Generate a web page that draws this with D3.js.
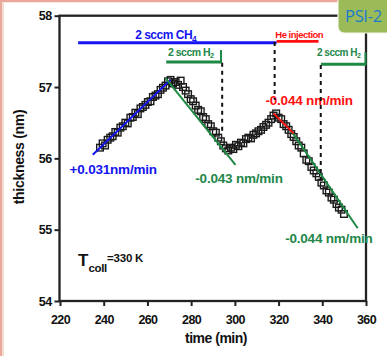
<!DOCTYPE html>
<html><head><meta charset="utf-8">
<script src="https://cdn.jsdelivr.net/npm/d3@7"></script>
<style>
html,body{margin:0;padding:0;background:#fff;}
svg{display:block;font-family:"Liberation Sans",Arial,sans-serif;}
</style></head>
<body>
<svg id="chart" width="387" height="356"></svg>
<script>
// ---- data ----
const xTicks = [220, 240, 260, 280, 300, 320, 340, 360];
const yTicks = [54, 55, 56, 57, 58];
const times = [
  238.3, 239.5, 240.6, 241.8, 243.0, 244.1, 245.3, 246.4, 247.6, 248.7, 249.9, 251.0, 252.2, 253.3, 254.5, 255.6,
  256.8, 257.9, 259.1, 260.2, 261.4, 262.5, 263.7, 264.8, 266.0, 267.1, 268.3, 269.4, 270.6, 271.7, 272.9, 274.0, 275.2,
  276.3, 277.5, 278.6, 279.8, 280.9, 282.1, 283.2, 284.4, 285.5, 286.7, 287.8, 289.0, 290.1, 291.3, 292.4, 293.6,
  294.7, 295.9, 297.0, 298.2,
  299.3, 300.5, 301.6, 302.8, 303.9, 305.1, 306.2, 307.4, 308.5, 309.7, 310.8, 312.0, 313.1, 314.3, 315.4, 316.6, 317.7,
  318.9, 320.0, 321.2, 322.3, 323.5, 324.6, 325.8, 326.9, 328.1, 329.2, 330.4, 331.5, 332.7, 333.8, 335.0, 336.1,
  337.3, 338.4, 339.6, 340.7, 341.9, 343.0, 344.2, 345.3, 346.5, 347.6, 348.8, 349.9
];
const thickness = [
  56.15, 56.21, 56.18, 56.26, 56.29, 56.31, 56.37, 56.36, 56.43, 56.45, 56.50, 56.49, 56.57, 56.58, 56.64, 56.62,
  56.70, 56.72, 56.75, 56.79, 56.80, 56.86, 56.88, 56.90, 56.96, 56.99, 57.02, 57.08, 57.10, 57.05, 57.07, 57.03, 57.09,
  57.00, 56.95, 56.90, 56.83, 56.80, 56.74, 56.68, 56.66, 56.58, 56.55, 56.48, 56.45, 56.38, 56.36, 56.29, 56.24,
  56.18, 56.14, 56.11, 56.15,
  56.13, 56.19, 56.17, 56.22, 56.21, 56.27, 56.29, 56.28, 56.33, 56.35, 56.38, 56.40, 56.44, 56.47, 56.50, 56.55, 56.60,
  56.63, 56.57, 56.55, 56.48, 56.45, 56.40, 56.34, 56.30, 56.24, 56.18, 56.15, 56.07, 55.98, 55.96, 55.88, 55.83,
  55.79, 55.74, 55.66, 55.62, 55.55, 55.52, 55.45, 55.42, 55.36, 55.31, 55.28, 55.22
];
// linear fits: [t0, v0, t1, v1]
const fitRise = [235.0, 56.05, 270.5, 57.10];
const fitFall1 = [268.2, 57.13, 300.3, 55.91];
const fitFall2a = [317.7, 56.63, 326.9, 56.35];
const fitFall2b = [325.5, 56.40, 356.2, 55.02];
const fitLabels = ["+0.031nm/min", "-0.043 nm/min", "-0.044 nm/min", "-0.044 nm/min"];
// gas phases: [tStart, tEnd]
const phaseCH4 = [228.3, 319.1];
const phaseHe = [319.1, 338.3];
const phaseH2a = [268.6, 293.9];
const phaseH2b = [339.4, 360.0];
// dashed markers: [t, vTop, vBottom]
const markers = [[294.2, 57.34, 56.33], [318.2, 57.63, 56.82], [339.3, 57.31, 55.70]];

// ---- drawing ----
const svg = d3.select("#chart");
const x = d3.scaleLinear().domain([220, 360]).range([60, 366]);
const y = d3.scaleLinear().domain([54, 58]).range([301, 15.7]);
const BLUE = "#1414f0", RED = "#ff1010", GREEN = "#1f8a45", GTXT = "#23874a";

// frame
svg.append("rect").attr("x", 1).attr("y", 1).attr("width", 390).attr("height", 360)
  .attr("fill", "none").attr("stroke", "#eba79c").attr("stroke-width", 2.5);
svg.append("line").attr("x1", 3.2).attr("x2", 3.2).attr("y1", 3).attr("y2", 356)
  .attr("stroke", "#e6cfae").attr("stroke-width", 1);

// axes box
const g = svg.append("g");
const axisColor = "#222";
const xB = d3.axisBottom(x).tickValues(xTicks).tickSize(5).tickFormat(d3.format("d"));
const yL = d3.axisLeft(y).tickValues(yTicks).tickSize(5).tickFormat(d3.format("d"));
const gx = g.append("g").attr("transform", "translate(0,301)").call(xB);
const gy = g.append("g").attr("transform", "translate(59.5,0)").call(yL);
[gx, gy].forEach(a => {
  a.select(".domain").remove();
  a.selectAll(".tick line").attr("stroke", axisColor).attr("stroke-width", 2);
  a.selectAll(".tick text").attr("fill", "#111").attr("font-size", 12.5).attr("font-weight", "bold")
    .attr("font-family", "'Liberation Sans',Arial,sans-serif").style("letter-spacing", "-0.6px");
});
gx.selectAll(".tick text").attr("dy", "1.05em").attr("y", 10);
gy.selectAll(".tick text").attr("x", -8);
g.append("rect").attr("x", x(220) - 0.5).attr("y", y(58)).attr("width", x(360) - x(220) + 0.5)
  .attr("height", y(54) - y(58)).attr("fill", "none").attr("stroke", axisColor).attr("stroke-width", 2.3);

// axis titles
svg.append("text").attr("x", 216).attr("y", 343).attr("text-anchor", "middle")
  .attr("font-size", 14).attr("font-weight", "bold").attr("fill", "#111").style("letter-spacing", "-0.5px")
  .text("time (min)");
svg.append("text").attr("transform", "translate(24,157) rotate(-90)").attr("text-anchor", "middle")
  .attr("font-size", 14).attr("font-weight", "bold").attr("fill", "#111").style("letter-spacing", "-0.3px")
  .text("thickness (nm)");

// data markers
const pts = times.map((t, i) => [t, thickness[i]]);
svg.append("g").selectAll("rect").data(pts).join("rect")
  .attr("x", d => x(d[0]) - 3.3).attr("y", d => y(d[1]) - 3.3)
  .attr("width", 6.6).attr("height", 6.6)
  .attr("fill", "none").attr("stroke", "#1a1a1a").attr("stroke-width", 1.4);

// fit lines
function fit(f, color) {
  svg.append("line").attr("x1", x(f[0])).attr("y1", y(f[1])).attr("x2", x(f[2])).attr("y2", y(f[3]))
    .attr("stroke", color).attr("stroke-width", 2);
}
fit(fitRise, BLUE); fit(fitFall1, GREEN); fit(fitFall2b, GREEN); fit(fitFall2a, RED);

// fit labels
function lab(txt, t, v, color, size) {
  svg.append("text").attr("x", x(t)).attr("y", y(v)).attr("fill", color)
    .attr("font-size", size).attr("font-weight", "bold").style("letter-spacing", "-0.2px").text(txt);
}
lab(fitLabels[0], 224.4, 55.78, BLUE, 13.5);
lab(fitLabels[1], 281.9, 55.65, GTXT, 13.5);
lab(fitLabels[2], 314.0, 56.75, RED, 13.5);
lab(fitLabels[3], 323.0, 54.81, GTXT, 13.5);

// phase bars
function bar(p, v, color, w) {
  svg.append("line").attr("x1", x(p[0])).attr("x2", x(p[1])).attr("y1", y(v)).attr("y2", y(v))
    .attr("stroke", color).attr("stroke-width", w);
}
bar(phaseCH4, 57.62, BLUE, 3);
bar(phaseHe, 57.64, RED, 2.6);
bar(phaseH2a, 57.35, GREEN, 3);
bar(phaseH2b, 57.32, GREEN, 3);
// end ticks of H2 bars
[[phaseH2a[1], 57.35], [phaseH2b[1], 57.32]].forEach(d => {
  svg.append("line").attr("x1", x(d[0]) - 0.5).attr("x2", x(d[0]) - 0.5).attr("y1", y(d[1]) + 1)
    .attr("y2", y(d[1]) - 12).attr("stroke", GREEN).attr("stroke-width", 2);
});

// phase labels
function plab(parts, t, v, color, size) {
  const tx = svg.append("text").attr("x", x(t)).attr("y", y(v)).attr("fill", color)
    .attr("font-size", size).attr("font-weight", "bold").style("letter-spacing", "-0.5px");
  tx.append("tspan").text(parts[0]);
  if (parts[1]) tx.append("tspan").attr("font-size", size * 0.7).attr("dy", size * 0.25).text(parts[1]);
}
plab(["2 sccm CH", "4"], 254.4, 57.68, BLUE, 12);
plab(["He injection"], 318.5, 57.69, RED, 9.5);
plab(["2 sccm H", "2"], 269.4, 57.44, GTXT, 10.5);
plab(["2 sccm H", "2"], 337.6, 57.44, GTXT, 10);

// dashed vertical markers
svg.append("g").selectAll("line").data(markers).join("line")
  .attr("x1", d => x(d[0])).attr("x2", d => x(d[0]))
  .attr("y1", d => y(d[1])).attr("y2", d => y(d[2]))
  .attr("stroke", "#111").attr("stroke-width", 2).attr("stroke-dasharray", "4,4");

// T_coll annotation
const tc = svg.append("text").attr("x", 78).attr("y", 266).attr("fill", "#111").attr("font-weight", "bold");
tc.append("tspan").attr("font-size", 17).text("T");
tc.append("tspan").attr("font-size", 11.5).attr("dy", 6).style("letter-spacing", "-0.3px").text("coll");
tc.append("tspan").attr("font-size", 11.5).attr("dy", -10).style("letter-spacing", "-0.2px").text("=330 K");

// PSI-2 badge
svg.append("rect").attr("x", 338).attr("y", -8).attr("width", 60).attr("height", 41).attr("rx", 6)
  .attr("fill", "#9bbb59").attr("stroke", "#f3f6ee").attr("stroke-width", 1.2);
svg.append("text").attr("x", 345).attr("y", 22).attr("fill", "#1f7acb").attr("font-size", 16.5)
  .attr("font-family", "'Open Sans','Liberation Sans',sans-serif").style("letter-spacing", "-0.3px").text("PSI-2");
</script>
</body></html>
